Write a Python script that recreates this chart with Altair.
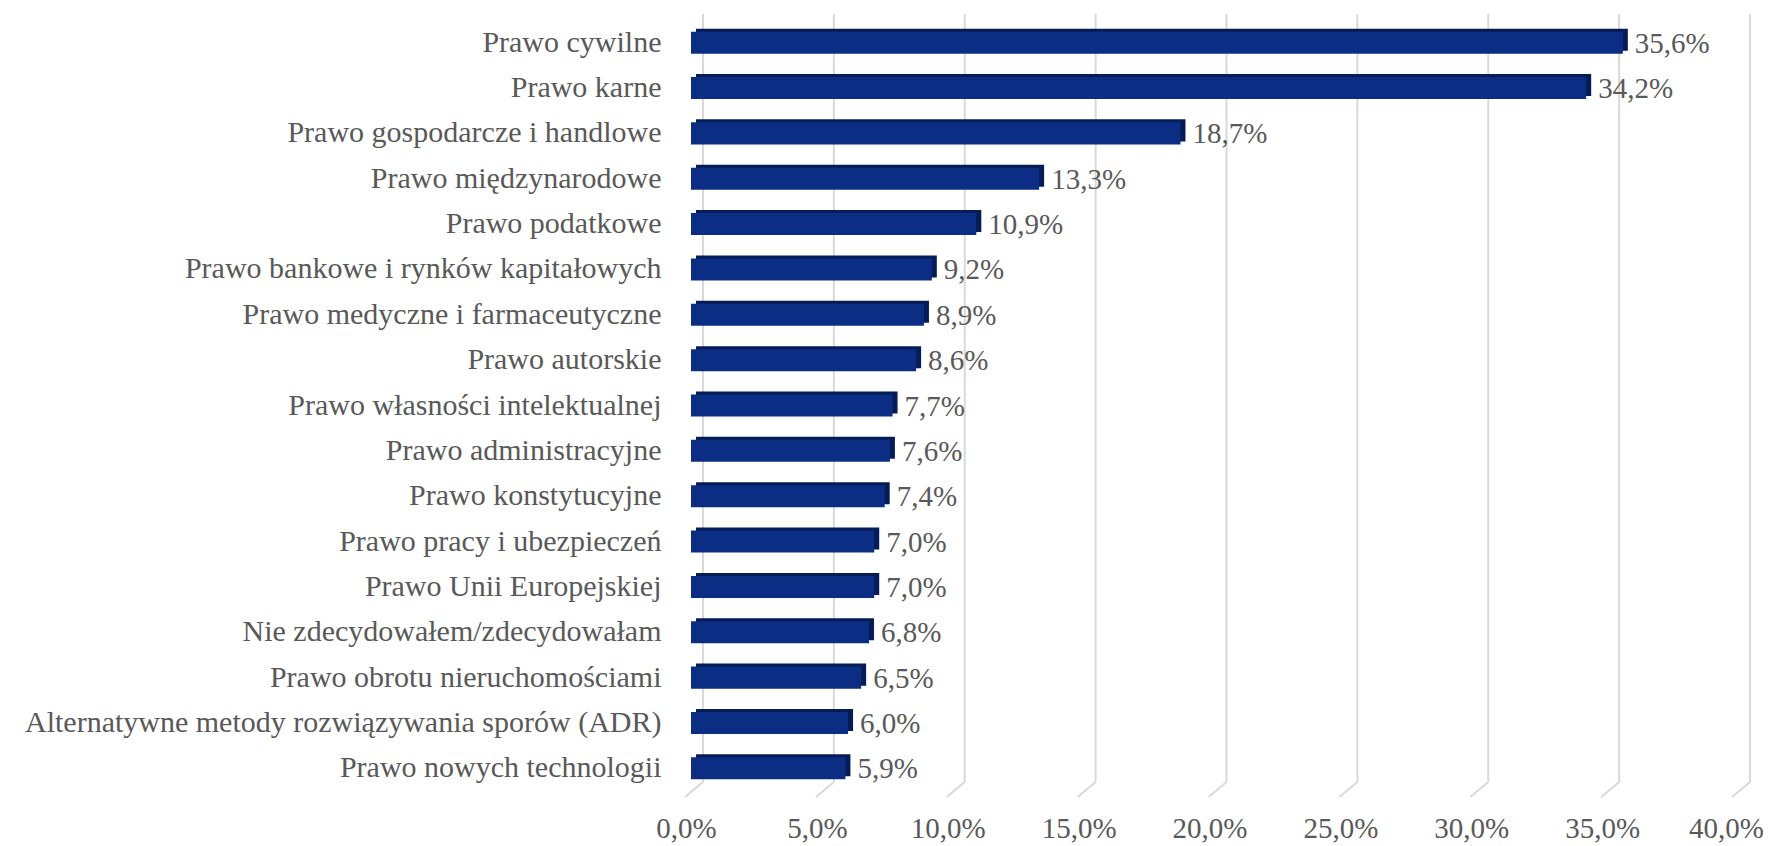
import altair as alt
import pandas as pd

categories = [
    "Prawo cywilne",
    "Prawo karne",
    "Prawo gospodarcze i handlowe",
    "Prawo międzynarodowe",
    "Prawo podatkowe",
    "Prawo bankowe i rynków kapitałowych",
    "Prawo medyczne i farmaceutyczne",
    "Prawo autorskie",
    "Prawo własności intelektualnej",
    "Prawo administracyjne",
    "Prawo konstytucyjne",
    "Prawo pracy i ubezpieczeń",
    "Prawo Unii Europejskiej",
    "Nie zdecydowałem/zdecydowałam",
    "Prawo obrotu nieruchomościami",
    "Alternatywne metody rozwiązywania sporów (ADR)",
    "Prawo nowych technologii",
]
values = [35.6, 34.2, 18.7, 13.3, 10.9, 9.2, 8.9, 8.6, 7.7, 7.6, 7.4, 7.0, 7.0, 6.8, 6.5, 6.0, 5.9]
tick_values = [0, 5, 10, 15, 20, 25, 30, 35, 40]

FONT = "Liberation Serif"
TEXT = "#595959"
GRID = "#D9D9D9"
BAR = "#0B2D84"
BAR_DARK = "#061C57"

df = pd.DataFrame({"cat": categories, "v": values})
df["lab"] = [f"{x:.1f}".replace(".", ",") + "%" for x in values]
ticks = pd.DataFrame({"t": tick_values})

xscale = alt.Scale(domain=[0, 40], nice=False, zero=True)
yscale = alt.Scale(domain=categories, paddingInner=0.514, paddingOuter=0.257)

xaxis = alt.Axis(
    values=tick_values,
    labelExpr="replace(format(datum.value, '.1f'), '.', ',') + '%'",
    title=None, grid=False, ticks=False, domain=False,
    labelFont=FONT, labelFontSize=29, labelColor=TEXT,
    labelPadding=23,
    labelOffset={"condition": {"test": "datum.value >= 40", "value": -12}, "value": -5},
    labelFlush=False,
)
yaxis = alt.Axis(
    title=None, ticks=False, domain=False, grid=False,
    labelFont=FONT, labelFontSize=30, labelColor=TEXT,
    labelPadding=30, labelLimit=900,
)

grid_v = alt.Chart(ticks).mark_rule(color=GRID, strokeWidth=2, xOffset=12).encode(
    x=alt.X("t:Q", scale=xscale, axis=xaxis),
    y=alt.value(-6),
    y2=alt.value(762),
)
grid_d = alt.Chart(ticks).mark_rule(color=GRID, strokeWidth=2, xOffset=12, x2Offset=-6).encode(
    x=alt.X("t:Q", scale=xscale, axis=xaxis),
    x2=alt.X2("t:Q"),
    y=alt.value(762),
    y2=alt.value(777),
)

bar_back = alt.Chart(df).mark_bar(
    color=BAR_DARK, xOffset=5, x2Offset=5, yOffset=-3, y2Offset=-3
).encode(
    x=alt.X("v:Q", scale=xscale, axis=xaxis),
    y=alt.Y("cat:N", scale=yscale, sort=categories, axis=yaxis),
)
bar_front = alt.Chart(df).mark_bar(color=BAR).encode(
    x=alt.X("v:Q", scale=xscale, axis=xaxis),
    y=alt.Y("cat:N", scale=yscale, sort=categories, axis=yaxis),
)
labels = alt.Chart(df).mark_text(
    align="left", baseline="middle", dx=12, dy=1, font=FONT, fontSize=29, color=TEXT
).encode(
    x=alt.X("v:Q", scale=xscale, axis=xaxis),
    y=alt.Y("cat:N", scale=yscale, sort=categories, axis=yaxis),
    text="lab:N",
)

chart = (
    alt.layer(grid_v, grid_d, bar_back, bar_front, labels)
    .properties(
        width=1047,
        height=771,
        autosize=alt.AutoSizeParams(type="none"),
        padding={"left": 683, "top": 12, "right": 25, "bottom": 57},
        background="white",
    )
    .configure_view(stroke=None)
)

chart.save("out.html", embed_options={"renderer": "svg", "actions": False})
